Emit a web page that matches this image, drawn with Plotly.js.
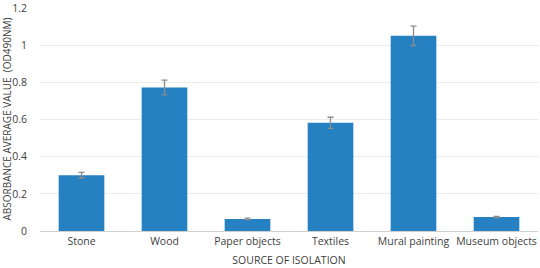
<!DOCTYPE html>
<html>
<head>
<meta charset="utf-8">
<script src="https://cdn.plot.ly/plotly-3.0.1.min.js"></script>
<style>html,body{margin:0;padding:0;background:#fff}#chart{width:540px;height:268px}</style>
</head>
<body>
<div id="chart"></div>
<script>
const categories = ["Stone", "Wood", "Paper objects", "Textiles", "Mural painting", "Museum objects"];
const values = [0.30, 0.772, 0.065, 0.582, 1.05, 0.075];
const errors = [0.015, 0.04, 0.004, 0.03, 0.052, 0.004];
const yTicks = [0, 0.2, 0.4, 0.6, 0.8, 1, 1.2];
const yTickText = ["0", "0.2", "0.4", "0.6", "0.8", "1", "1.2"];

const font = "Open Sans, Liberation Sans, sans-serif";
Plotly.newPlot("chart", [{
  type: "bar",
  x: categories,
  y: values,
  marker: {color: "#2581C2"},
  error_y: {type: "data", array: errors, visible: true, color: "#8c8c8c", thickness: 1.3, width: 3}
}], {
  width: 540, height: 268,
  margin: {l: 40, r: 2, t: 7, b: 37},
  bargap: 0.45,
  paper_bgcolor: "#fff", plot_bgcolor: "#fff",
  font: {family: font, size: 10.5, color: "#404040"},
  xaxis: {
    tickfont: {family: font, size: 10.5, color: "#404040"},
    showline: true, linecolor: "#d0d0d0", linewidth: 1,
    ticks: "", showgrid: false,
    title: {text: "SOURCE OF ISOLATION", font: {family: font, size: 10.5, color: "#404040"}, standoff: 10}
  },
  yaxis: {
    range: [0, 1.205],
    tickvals: yTicks, ticktext: yTickText,
    tickfont: {family: font, size: 10.5, color: "#404040"},
    ticklabeloverflow: "allow",
    showgrid: true, gridcolor: "#ececec", gridwidth: 1,
    zeroline: true, zerolinecolor: "#d0d0d0",
    ticks: "", ticklabelstandoff: 12,
    title: {text: "ABSORBANCE AVERAGE VALUE  (OD490NM)", font: {family: font, size: 10, color: "#404040"}, standoff: 4}
  },
  showlegend: false
}, {displayModeBar: false, staticPlot: true});
</script>
</body>
</html>
